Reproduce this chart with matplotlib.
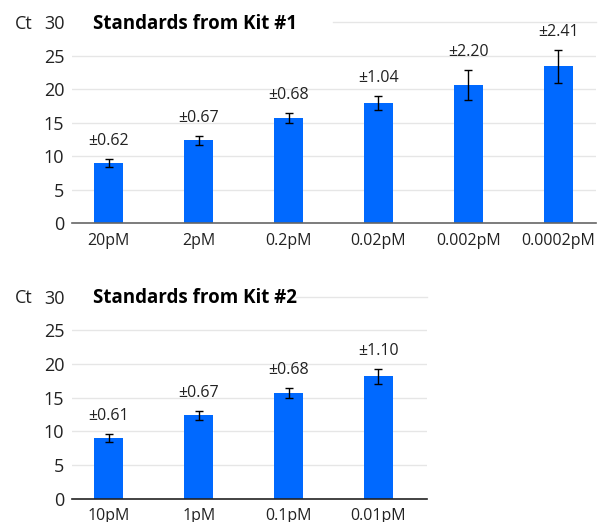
import matplotlib
matplotlib.use("Agg")
import matplotlib.pyplot as plt

plt.rcParams['font.family'] = ['Open Sans', 'DejaVu Sans']

kit1_labels = ["20pM", "2pM", "0.2pM", "0.02pM", "0.002pM", "0.0002pM"]
kit1_ct = [9.0, 12.4, 15.7, 18.0, 20.6, 23.4]
kit1_sd = [0.62, 0.67, 0.68, 1.04, 2.20, 2.41]

kit2_labels = ["10pM", "1pM", "0.1pM", "0.01pM"]
kit2_ct = [9.0, 12.4, 15.7, 18.2]
kit2_sd = [0.61, 0.67, 0.68, 1.10]

W, H = 599, 522
fig = plt.figure(figsize=(W / 100, H / 100), dpi=100)

BAR = "#0069FF"
GRID = "#e6e6e6"
TXT = "#222222"


def panel(rect, labels, ct, sd, title, xmax, spine_color, grid30_start):
    l, t, r, b = rect
    ax = fig.add_axes([l / W, 1 - b / H, (r - l) / W, (b - t) / H])
    x = list(range(len(labels)))
    ax.bar(x, ct, width=0.32, color=BAR, zorder=2)
    ax.errorbar(x, ct, yerr=sd, fmt='none', ecolor='black', elinewidth=1,
                capsize=2.6, capthick=1, zorder=3)
    for xi, v, e in zip(x, ct, sd):
        ax.annotate(f"±{e:.2f}", xy=(xi, v + e), xytext=(0, 13),
                    textcoords='offset points', ha='center', va='center',
                    fontsize=11.5, color=TXT)
    ax.set_ylim(0, 30)
    ax.set_xlim(-0.41, xmax)
    ax.set_yticks([0, 5, 10, 15, 20, 25, 30])
    ax.set_xticks(x)
    ax.set_xticklabels(labels)
    ax.tick_params(axis='both', length=0, colors=TXT)
    ax.tick_params(axis='y', pad=5.5, labelsize=13)
    ax.tick_params(axis='x', pad=7, labelsize=11.5)
    for s in ['top', 'right', 'left']:
        ax.spines[s].set_visible(False)
    ax.spines['bottom'].set_color(spine_color)
    ax.spines['bottom'].set_linewidth(1.2)
    ax.spines['bottom'].set_zorder(4)
    for yv in [5, 10, 15, 20, 25]:
        ax.axhline(yv, color=GRID, lw=1, zorder=1)
    ax.axhline(30, xmin=(grid30_start - l) / (r - l), color=GRID, lw=1, zorder=1, clip_on=False)
    ax.annotate(title, xy=(0, 1), xycoords='axes fraction', xytext=(21 * 0.72, -1),
                textcoords='offset points', ha='left', va='center',
                fontsize=13.5, fontweight='bold', color='black')
    fig.text(15 / W, 1 - (t + 1.5) / H, "Ct", ha='left', va='center', fontsize=13, color=TXT)
    return ax


panel((72, 22.3, 596, 223), kit1_labels, kit1_ct, kit1_sd,
      "Standards from Kit #1", 5.42, "#666666", 333)
panel((72, 296.7, 427, 498.7), kit2_labels, kit2_ct, kit2_sd,
      "Standards from Kit #2", 3.54, "#222222", 296)

fig.savefig("out.png", dpi=100)
